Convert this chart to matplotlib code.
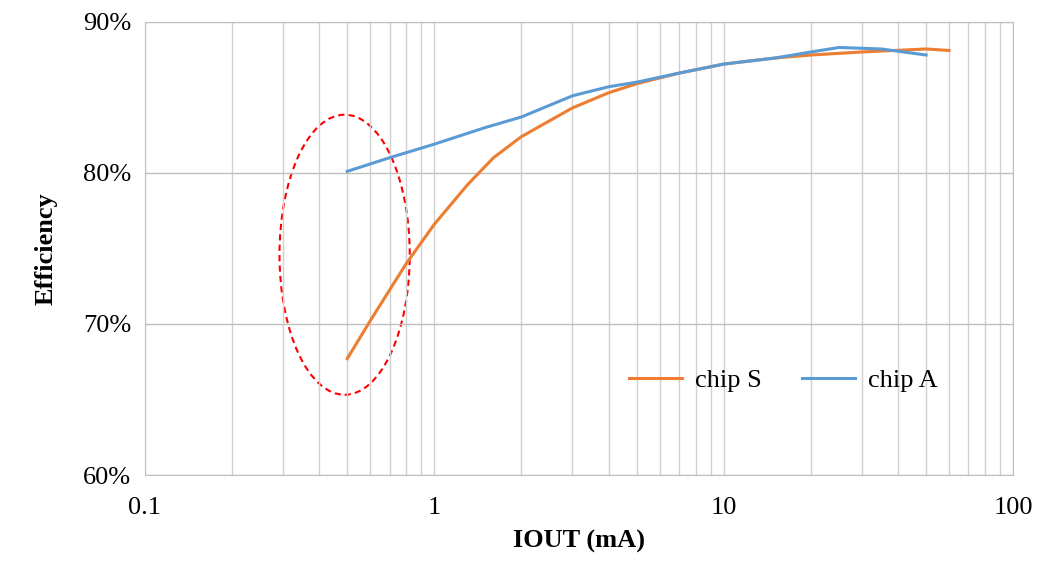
import matplotlib
matplotlib.use("Agg")
import matplotlib.pyplot as plt
from matplotlib.patches import Ellipse
from matplotlib.ticker import FuncFormatter

plt.rcParams["font.family"] = "Liberation Serif"

# data
iout_s = [0.5, 0.6, 0.8, 1.0, 1.3, 1.6, 2.0, 3.0, 4.0, 5.0, 7.0, 10, 15, 20, 30, 50, 60]
eff_s = [67.7, 70.2, 74.0, 76.6, 79.2, 81.0, 82.4, 84.3, 85.3, 85.9, 86.6, 87.2, 87.6, 87.8, 88.0, 88.2, 88.1]
iout_a = [0.5, 0.7, 1.0, 1.5, 2.0, 3.0, 4.0, 5.0, 7.0, 10, 15, 20, 25, 35, 50]
eff_a = [80.1, 81.0, 81.9, 83.0, 83.7, 85.1, 85.7, 86.0, 86.6, 87.2, 87.6, 88.0, 88.3, 88.2, 87.8]

fig = plt.figure(figsize=(10.5, 5.73), dpi=100)
ax = fig.add_axes([0.138, 0.171, 0.827, 0.791])

ax.plot(iout_s, eff_s, color="#ED7D31", lw=2.2, label="chip S")
ax.plot(iout_a, eff_a, color="#5B9BD5", lw=2.2, label="chip A")

ax.set_xscale("log")
ax.set_xlim(0.1, 100)
ax.set_ylim(60, 90)
ax.set_yticks([60, 70, 80, 90])
ax.yaxis.set_major_formatter(FuncFormatter(lambda v, p: f"{v:.0f}%"))
ax.xaxis.set_major_formatter(FuncFormatter(lambda v, p: f"{v:g}"))
ax.xaxis.set_minor_formatter(FuncFormatter(lambda v, p: ""))
ax.grid(True, which="both", axis="x", color="#D0D0D0", lw=1)
ax.grid(True, which="major", axis="y", color="#BFBFBF", lw=1)
ax.tick_params(which="both", length=0, labelsize=19)
ax.tick_params(axis="x", pad=16)
ax.tick_params(axis="y", pad=10)
for s in ax.spines.values():
    s.set_color("#BFBFBF")

ax.set_xlabel("IOUT (mA)", fontsize=19, fontweight="bold", labelpad=8)
ax.set_ylabel("Efficiency", fontsize=19, fontweight="bold", labelpad=18)

ax.add_patch(Ellipse((0.230, 0.486), 0.150, 0.618, transform=ax.transAxes,
                     fill=False, edgecolor="red", ls=(0, (3, 2)), lw=1.5))

ax.legend(loc="lower right", bbox_to_anchor=(0.94, 0.13), ncol=2, frameon=False,
          fontsize=19, handlelength=2.0, handletextpad=0.5, columnspacing=1.5)

fig.savefig("out.png")
